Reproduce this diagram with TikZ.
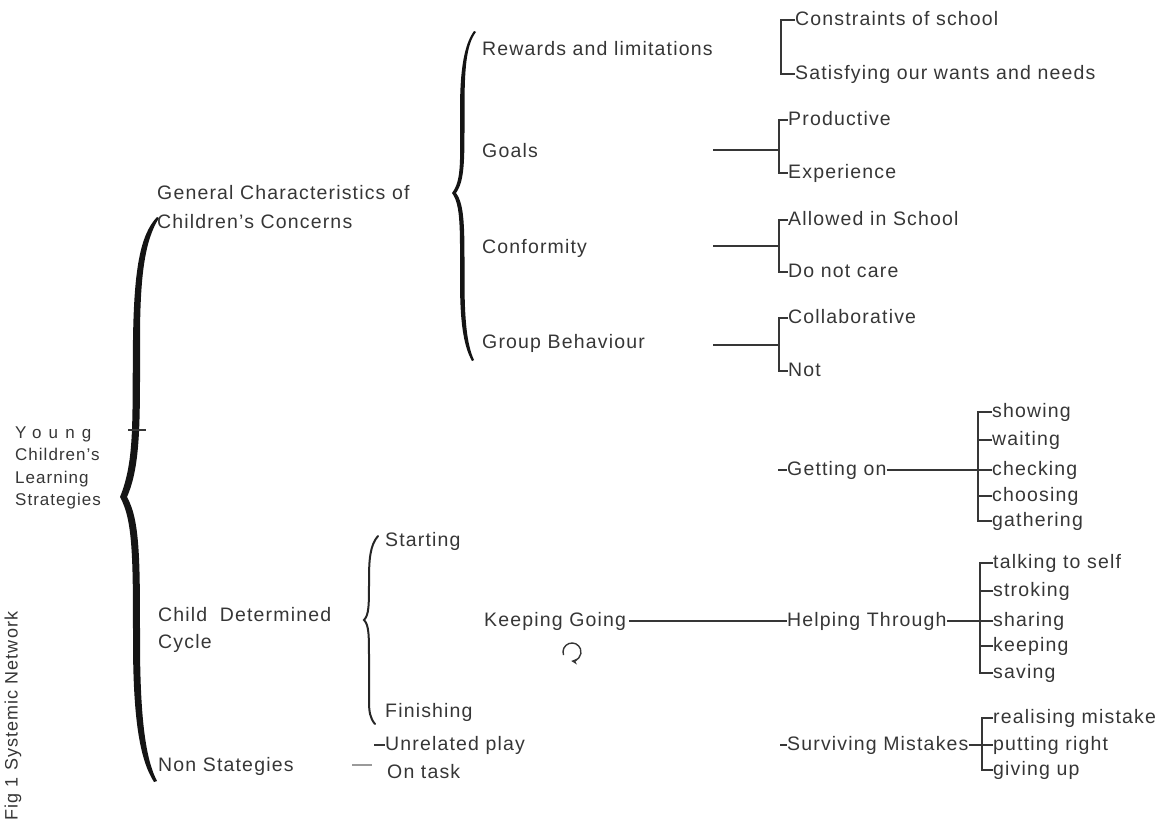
\documentclass[tikz,border=0pt]{standalone}
\usepackage{fontspec}
\setmainfont{Liberation Sans}[LetterSpace=6]
\usetikzlibrary{arrows.meta}
\definecolor{ink}{HTML}{363636}
\definecolor{grayline}{HTML}{9A9A9A}
\begin{document}
\begin{tikzpicture}[x=1pt,y=-1pt,
  lab/.style={anchor=west, inner xsep=0pt, inner ysep=0pt, text=ink,
    font=\fontsize{19.5}{24}\selectfont, text height=14pt, text depth=4pt},
  multi/.style={anchor=west, inner sep=0pt, text=ink, align=left},
  ln/.style={draw=ink, line width=1.1pt},
  bracefill/.style={fill=black!92, draw=none},
  thinbrace/.style={draw=black!85, line width=2pt, line cap=round}]
\useasboundingbox (0,0) rectangle (1159,830);

% ---------- root ----------
\node[multi, font=\fontsize{17}{22.5}\selectfont] (root) at (15,468)
  {{\addfontfeature{LetterSpace=42}Young}\\Children's\\Learning\\Strategies};
\coordinate (rt1) at (128,430);
\coordinate (rt2) at (146,430);

% big brace
\path[bracefill] (157,217) .. controls (140,235) and (134,270) .. (133,340)
  .. controls (132,420) and (135,460) .. (120,497)
  .. controls (133,520) and (133,560) .. (133,640)
  .. controls (133,720) and (140,760) .. (154,782)
  -- (157,781)
  .. controls (146,760) and (140,720) .. (140,640)
  .. controls (140,560) and (140,520) .. (127,497)
  .. controls (141,465) and (140,420) .. (140,340)
  .. controls (140,275) and (145,240) .. (159,218) -- cycle;
\draw[ln] (rt1) -- (rt2);

% ---------- level 1 ----------
\node[multi, font=\fontsize{19.5}{29}\selectfont] (gen) at (157,207.5)
  {General Characteristics of\\Children's Concerns};
\node[multi, font=\fontsize{19.5}{27}\selectfont] (cdc) at (158,629.5)
  {Child\hspace{6pt} Determined\\Cycle};
\node[lab] (non) at (158,766) {Non Stategies};

% second brace
\path[bracefill] (474,31) .. controls (464,45) and (460,70) .. (460,110)
  .. controls (460,160) and (462,180) .. (452,193)
  .. controls (461,205) and (460,230) .. (460,280)
  .. controls (460,320) and (463,345) .. (472,361)
  -- (474,360)
  .. controls (467,345) and (464.5,320) .. (464.5,280)
  .. controls (464.5,230) and (465,205) .. (456,193)
  .. controls (465,180) and (464.5,160) .. (464.5,110)
  .. controls (464.5,70) and (466,45) .. (476,32) -- cycle;

% ---------- general characteristics ----------
\node[lab] (rew) at (482,50) {Rewards and limitations};
\node[lab] (goals) at (482,152) {Goals};
\node[lab] (conf) at (482,248) {Conformity};
\node[lab] (grp) at (482,343) {Group Behaviour};

\node[lab] (cons) at (795,20) {Constraints of school};
\node[lab] (sat) at (795,74) {Satisfying our wants and needs};
\coordinate (rb) at (781,48);
\draw[ln] (cons.west) -| (rb);
\draw[ln] (sat.west) -| (rb);

\node[lab] (prod) at (788,120) {Productive};
\node[lab] (exp) at (788,173) {Experience};
\coordinate (g0) at (713,150);
\coordinate (gb) at (779,150);
\draw[ln] (g0) -- (gb);
\draw[ln] (prod.west) -| (gb);
\draw[ln] (exp.west) -| (gb);

\node[lab] (allow) at (788,220) {Allowed in School};
\node[lab] (dnc) at (788,272) {Do not care};
\coordinate (c0) at (713,246);
\coordinate (cb) at (779,246);
\draw[ln] (c0) -- (cb);
\draw[ln] (allow.west) -| (cb);
\draw[ln] (dnc.west) -| (cb);

\node[lab] (collab) at (788,318) {Collaborative};
\node[lab] (not) at (788,371) {Not};
\coordinate (b0) at (713,345);
\coordinate (bb) at (779,345);
\draw[ln] (b0) -- (bb);
\draw[ln] (collab.west) -| (bb);
\draw[ln] (not.west) -| (bb);

% ---------- child determined cycle ----------
\draw[thinbrace] (378,536) .. controls (370,545) and (369,560) .. (369,580)
  .. controls (369,605) and (369,615) .. (364,620)
  .. controls (369,625) and (369,635) .. (369,660) -- (369,700)
  .. controls (369,712) and (370,718) .. (375,724);
\node[lab] (start) at (385,541) {Starting};
\node[lab] (finish) at (385,712) {Finishing};
\node[lab] (keep) at (484,621) {Keeping Going};

% recursion symbol
\coordinate (rec) at (572,652);
\draw[draw=ink, line width=1.4pt, -{Stealth[length=6pt,width=6pt]}]
  ([shift={(160:9)}]rec) arc[start angle=160, end angle=455, radius=9];

\node[lab] (help) at (787,621) {Helping Through};
\draw[ln] (keep.east) ++(3,0) coordinate (k1);
\draw[ln] (k1) -- (help.west);

% getting on
\node[lab] (geton) at (787,470) {Getting on};
\coordinate (gt) at (778,470);
\draw[ln] (gt) -- (geton.west);
\coordinate (gob) at (978,470);
\draw[ln] (geton.east) -- (gob);
\node[lab] (showing) at (992,412) {showing};
\node[lab] (waiting) at (992,440) {waiting};
\node[lab] (checking) at (992,470) {checking};
\node[lab] (choosing) at (992,496) {choosing};
\node[lab] (gathering) at (992,521) {gathering};
\foreach \n in {showing,waiting,checking,choosing,gathering}
  \draw[ln] (\n.west) -| (gob);

% helping through
\coordinate (hb) at (980,621);
\draw[ln] (help.east) -- (hb);
\node[lab] (talking) at (993,563) {talking to self};
\node[lab] (stroking) at (993,591) {stroking};
\node[lab] (sharing) at (993,621) {sharing};
\node[lab] (keeping) at (993,646) {keeping};
\node[lab] (saving) at (993,673) {saving};
\foreach \n in {talking,stroking,sharing,keeping,saving}
  \draw[ln] (\n.west) -| (hb);

% surviving mistakes
\node[lab] (surv) at (787,745) {Surviving Mistakes};
\coordinate (st) at (780,745);
\draw[ln] (st) -- (surv.west);
\coordinate (sb) at (982,745);
\draw[ln] (surv.east) -- (sb);
\node[lab] (realising) at (993,718) {realising mistake};
\node[lab] (putting) at (993,745) {putting right};
\node[lab] (giving) at (993,770) {giving up};
\foreach \n in {realising,putting,giving}
  \draw[ln] (\n.west) -| (sb);

% ---------- non strategies ----------
\coordinate (n1) at (352,765);
\coordinate (n2) at (372,765);
\draw[draw=grayline, line width=1.3pt] (n1) -- (n2);
\node[lab] (unrel) at (385,745) {Unrelated play};
\coordinate (ut) at (374,745);
\draw[ln] (ut) -- (unrel.west);
\node[lab] (ontask) at (387,773) {On task};

% ---------- caption ----------
\node[rotate=90, text=ink, inner sep=0pt, font=\fontsize{18}{20}\selectfont] (fig) at (13,716)
  {Fig 1 Systemic Network};
\end{tikzpicture}
\end{document}
